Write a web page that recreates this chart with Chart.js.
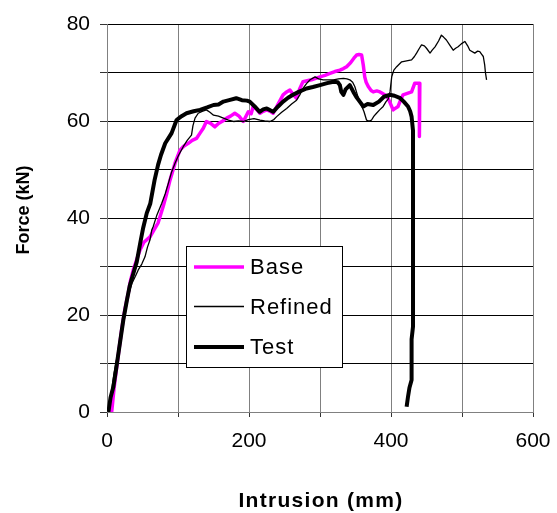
<!DOCTYPE html>
<html>
<head>
<meta charset="utf-8">
<script src="https://cdn.jsdelivr.net/npm/chart.js@4.4.1/dist/chart.umd.min.js"></script>
<style>
html,body{margin:0;padding:0;background:#fff;}
canvas{display:block;}
</style>
</head>
<body>
<canvas id="c" width="557" height="513"></canvas>
<script>
// ---- data ----
const seriesNames = ["Base", "Refined", "Test"];
const xTitle = "Intrusion (mm)";
const yTitle = "Force (kN)";

const baseX = [6.6,10,13.7,17,20.7,25,30,33,37,42,46.5,52,60.6,66,72,79,84,88.7,95.8,102.8,108,114.5,120,126,131,135.6,140,146,152,157,163,168.5,174,180,186,192,199,203,206,210,215.5,220,225,230,234,241,248,253,257.6,262,267,271,276,282,288,294,300,307,314,321,328,333,337.5,343,348,351.5,355,358.6,361,363,365,368,372,375,380,384.5,390,394,398,403,406,410,414,417,423,429,433.5,440.6,440,440];
const baseY = [0,5,9.3,13,17,21,24.5,27,29.3,31.5,33.4,35,36.1,37.5,39,42.3,45,47.8,51.3,54,54.8,55.4,56,56.4,57.5,58.5,59.9,59.5,58.8,59.5,60,60.6,61,61.6,61,59.9,61.9,61.5,63,62.5,61.6,62,62.3,62,61.6,63.5,65.4,66,66.4,65.5,64.7,66.5,68.1,68.3,68.5,68.8,69.1,69.4,69.8,70.2,70.5,70.8,71.2,72,73,73.6,73.7,73.6,71.5,69.1,68,67.1,66.3,66,66.2,66,65.5,65.2,64,62.3,62.6,63,64.5,65.4,65.7,66,67.8,67.8,62,56.8];

const refinedX = [3,6,10,15,20,25,30,35,40,44,49,53.5,57,60.6,63,65,70,77,82,86.3,91,95.8,101,107.4,113,119,121,124,128.5,134,140,145,150,157,164,171,178,185,192,199,207,215.5,222,229.5,235,239,246,253,260,267,272,276,281,286,293,298,304.5,312,319,326,333,338,342,346,349,352,355,359,362,365.5,369,372.6,376,379.6,384,389,393,396,398.6,401,404,408,415,422,429,433,436,440,443,447,450,455,458,462,467,471,474,478,483,487.6,491,494.5,499,504,508,511,518,522,525,528,530,532,533,534.6];
const refinedY = [0,4,8,12,17,21,24,26.5,28,29.3,30.5,32,34,35.5,37.5,38.2,40.5,43,45,47.1,49.5,51.3,53,54.7,56,57.1,59,60.6,61.6,62,62.3,61.8,61.2,61,60.6,60.2,59.9,60,59.9,60.3,60.5,60.2,60,59.9,60.3,60.9,61.8,62.6,63.5,64.3,65.5,66.7,67.7,68.5,69.1,68.7,68.5,68.5,68.5,68.7,68.8,68.7,68.5,68,67.1,65.7,64.3,63,61.9,60.2,60,60.2,61,61.6,62.3,63,64,64.5,66,69.1,70.5,71.2,72.2,72.4,72.6,73.3,74,75,75.7,75.5,75,74,74.6,75.3,76.5,77.7,77.3,76.7,75.6,74.6,75,75.3,75.9,76.4,75.5,74.6,74,74.4,74.3,73.7,73.3,71.5,70,68.5];

const testX = [2,5,9,13,16,20,23,28,32,37,42,47,51,56,61,67,72,76,82,91,98,105,112,122,131,141,150,157,164,172,182,190,197,201,208,215,220,225,230,234,241,248,255,262,270,281,290,300,310,319,325,328,330,333,336,342,347,351,356,361,367,375,383,390,398,405,413,418,424,427,429,431,431,431,431,431,431,429,429,429,426,424,422];
const testY = [0,3,5.2,9,12,16,19,23,26,28.5,31,35,38,41,43,47.8,51,53,55.4,57.5,60.2,61,61.6,62,62.3,62.8,63.3,63.4,64,64.3,64.7,64.3,64.2,64,63,61.9,62.4,62.6,62.2,61.9,63,64,64.8,65.4,66,66.7,67,67.4,67.8,68.1,68,67.4,66,65.4,66.5,67.4,66,65,64,63,63.5,63.3,64,65,65.4,65.2,64.7,64,63,62,60.9,58,50,40,30,20,17.6,15,10,6.6,5,3.2,1.1];

const xTicksShown = [0, 200, 400, 600];
const yTicksShown = [0, 20, 40, 60, 80];

const toPts = (xs, ys) => xs.map((x, i) => ({x: x, y: ys[i]}));

const FONT = "'Liberation Sans', Arial, sans-serif";

const legendPlugin = {
  id: 'boxLegend',
  afterDatasetsDraw(chart) {
    const ctx = chart.ctx;
    const x0 = 186, y0 = 246, w = 156, h = 121;
    ctx.save();
    ctx.fillStyle = '#fff';
    ctx.fillRect(x0, y0, w, h);
    ctx.strokeStyle = '#000';
    ctx.lineWidth = 1;
    ctx.strokeRect(x0 + 0.5, y0 + 0.5, w, h);
    const rows = [
      {ds: chart.data.datasets[2], y: 267},
      {ds: chart.data.datasets[1], y: 306.5},
      {ds: chart.data.datasets[0], y: 347}
    ];
    ctx.font = "22px " + FONT;
    ctx.letterSpacing = '1px';
    ctx.textBaseline = 'middle';
    ctx.textAlign = 'left';
    rows.forEach(r => {
      ctx.strokeStyle = r.ds.borderColor;
      ctx.lineWidth = r.ds.borderWidth;
      ctx.beginPath();
      ctx.moveTo(194, r.y);
      ctx.lineTo(244, r.y);
      ctx.stroke();
      ctx.fillStyle = '#000';
      ctx.fillText(r.ds.label, 250, r.y + 1);
    });
    ctx.restore();
  }
};

const titlePlugin = {
  id: 'axisTitles',
  afterDraw(chart) {
    const ctx = chart.ctx;
    const area = chart.chartArea;
    ctx.save();
    ctx.fillStyle = '#000';
    ctx.textAlign = 'center';
    ctx.textBaseline = 'middle';
    ctx.font = "bold 21px " + FONT;
    ctx.letterSpacing = '1.3px';
    ctx.fillText(xTitle, (area.left + area.right) / 2 + 1, 501);
    ctx.letterSpacing = '0px';
    ctx.font = "bold 18px " + FONT;
    ctx.translate(24, 210);
    ctx.rotate(-Math.PI / 2);
    ctx.fillText(yTitle, 0, 0);
    ctx.restore();
  }
};

const bgPlugin = {
  id: 'bg',
  beforeDraw(chart) {
    const ctx = chart.ctx;
    ctx.save();
    ctx.fillStyle = '#fff';
    ctx.fillRect(0, 0, chart.width, chart.height);
    ctx.restore();
  }
};

new Chart(document.getElementById('c'), {
  type: 'scatter',
  data: {
    datasets: [
      {label: seriesNames[2], data: toPts(testX, testY), borderColor: '#000000', borderWidth: 4, order: 0},
      {label: seriesNames[1], data: toPts(refinedX, refinedY), borderColor: '#000000', borderWidth: 1.3, order: 1},
      {label: seriesNames[0], data: toPts(baseX, baseY), borderColor: '#FF00FF', borderWidth: 3.5, order: 2}
    ].map(d => Object.assign(d, {showLine: true, pointRadius: 0, pointHoverRadius: 0, fill: false, tension: 0, borderJoinStyle: 'round', borderCapStyle: 'butt'}))
  },
  options: {
    responsive: false,
    animation: false,
    devicePixelRatio: 1,
    layout: {padding: {left: 0, right: 24, top: 24, bottom: 0}},
    plugins: {legend: {display: false}, tooltip: {enabled: false}},
    scales: {
      x: {
        type: 'linear', min: 0, max: 600,
        ticks: {stepSize: 100, autoSkip: false, maxRotation: 0, color: '#000', padding: 12,
          font: {family: FONT, size: 21},
          callback: v => xTicksShown.includes(v) ? String(v) : ''},
        grid: {color: '#808080', lineWidth: 1, tickLength: 5, tickColor: '#333'},
        border: {color: '#808080', width: 1},
        title: {display: false},
        afterFit(s) { s.height = 101; s.paddingLeft = 0; s.paddingRight = 0; }
      },
      y: {
        type: 'linear', min: 0, max: 80,
        ticks: {stepSize: 10, autoSkip: false, color: '#000', padding: 10,
          font: {family: FONT, size: 21},
          callback: v => yTicksShown.includes(v) ? String(v) : ''},
        grid: {color: '#000', lineWidth: 1, tickLength: 7, tickColor: '#333'},
        border: {color: '#808080', width: 1},
        title: {display: false},
        afterFit(s) { s.width = 107; s.paddingTop = 0; s.paddingBottom = 0; }
      }
    }
  },
  plugins: [bgPlugin, legendPlugin, titlePlugin]
});
</script>
</body>
</html>
